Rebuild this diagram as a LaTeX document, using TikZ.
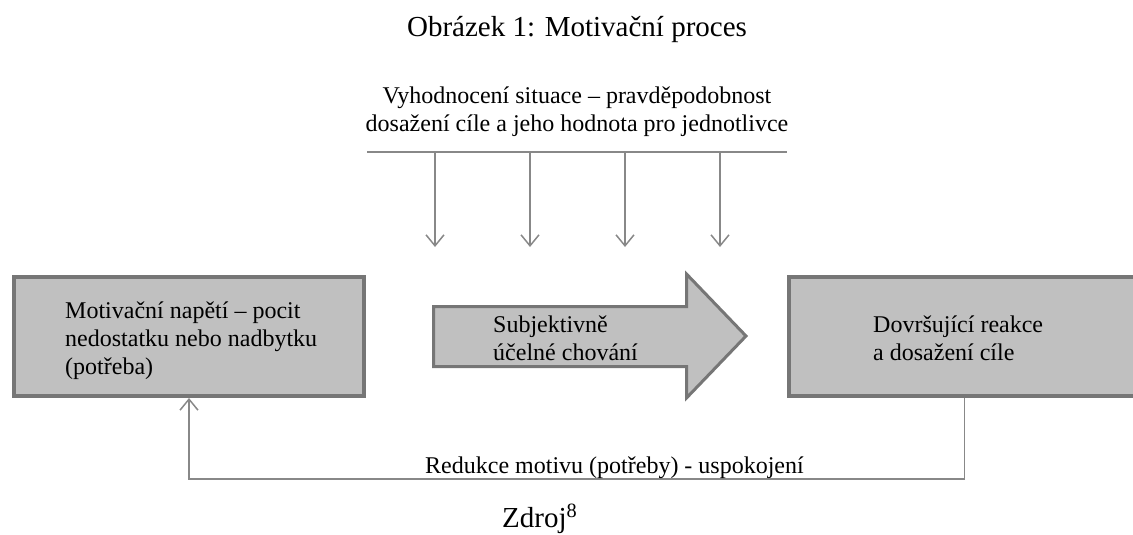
\documentclass[tikz,border=0pt]{standalone}
\usepackage{fontspec}
\setmainfont{Liberation Serif}
\usetikzlibrary{arrows.meta,positioning}
\definecolor{boxFill}{RGB}{192,192,192}
\definecolor{boxLine}{RGB}{118,118,118}
\definecolor{flowGray}{RGB}{136,136,136}

\begin{document}
\begin{tikzpicture}[
    x=1pt, y=-1pt,
    stage/.style={rectangle, draw=boxLine, line width=4pt, fill=boxFill, inner sep=0pt, outer sep=2pt, minimum height=119pt},
    lbl/.style={align=left, inner sep=0pt, anchor=base west, font=\fontsize{24}{27.6}\selectfont},
    caption/.style={inner sep=0pt, font=\fontsize{29}{33}\selectfont},
    flow/.style={draw=flowGray, line width=1.5pt, -{Straight Barb[length=11pt, width=18pt]}},
    plain/.style={draw=flowGray, line width=1.5pt}
  ]
  \clip (0,0) rectangle (1133,535);

  % Nadpis
  \node[caption, anchor=base] (title) at (577,37) {Obrázek 1: Motivační proces};

  % Vyhodnocení situace (base = posledni radek)
  \node[lbl, align=center, anchor=base] (eval) at (577,131) {Vyhodnocení situace – pravděpodobnost\\dosažení cíle a jeho hodnota pro jednotlivce};
  \coordinate (evalL) at (367,152);
  \coordinate (evalR) at (787,152);
  \draw[plain] (evalL) -- (evalR);
  \foreach \x in {435,530,625,720}
    \draw[flow] (\x,152) -- (\x,247);

  % Boxy
  \node[stage, minimum width=350pt] (tension) at (189,336.5) {};
  \node[stage, minimum width=351pt] (goal) at (964.5,336.5) {};
  \node[lbl] (tensiontext) at (65,374) {Motivační napětí – pocit\\nedostatku nebo nadbytku\\(potřeba)};
  \node[lbl] (goaltext) at (873,360) {Dovršující reakce\\a dosažení cíle};

  % Velka sipka
  \draw[draw=boxLine, line width=3pt, fill=boxFill, line join=miter] (433.5,306.5) -- (686.5,306.5) -- (686.5,274) -- (746,336) -- (686.5,398) -- (686.5,366.5) -- (433.5,366.5) -- cycle;
  \node[lbl] (acttext) at (493,360) {Subjektivně\\účelné chování};

  % Zpetna vazba
  \coordinate (loop) at (577,479);
  \draw[flow] (goal.south) |- (loop) -| (tension.south);
  \node[lbl] (looptext) at (425,473) {Redukce motivu (potřeby) - uspokojení};

  % Zdroj
  \node[caption, anchor=base west] (source) at (502,527) {Zdroj\textsuperscript{8}};
\end{tikzpicture}
\end{document}
